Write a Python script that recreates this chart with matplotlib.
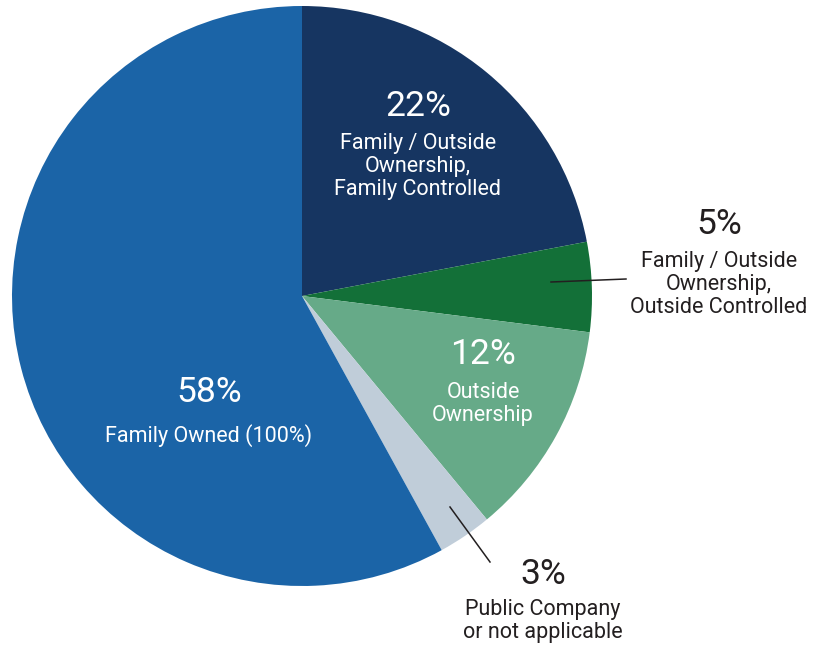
import matplotlib.pyplot as plt

plt.rcParams['font.family'] = ['Roboto', 'DejaVu Sans']

# Ownership breakdown, clockwise from 12 o'clock
shares = [22, 5, 12, 3, 58]
labels = [
    "Family / Outside\nOwnership,\nFamily Controlled",
    "Family / Outside\nOwnership,\nOutside Controlled",
    "Outside\nOwnership",
    "Public Company\nor not applicable",
    "Family Owned (100%)",
]
colors = ["#163561", "#137038", "#66aa88", "#c0cdd9", "#1b64a7"]

fig = plt.figure(figsize=(8.2, 6.47), dpi=100)
ax = fig.add_axes([12 / 820, 61 / 647, 580 / 820, 580 / 647])
ax.pie(shares, colors=colors, startangle=90, counterclock=False,
       radius=1.0, wedgeprops=dict(linewidth=0))
ax.set_xlim(-1, 1)
ax.set_ylim(-1, 1)
ax.set_aspect('auto')
ax.axis('off')


def px(x, y):
    # pixel position -> data coords of the pie axes
    return ((x - 302) / 290, (296 - y) / 290)


pct_size = 25.5
lab_size = 15.5

# inside labels (white)
inside = [(0, 418, 107, 141), (2, 483, 355, 390), (4, 209, 392, 432)]
for i, x, y_pct, y_lab in inside:
    ax.text(*px(x, y_pct), f"{shares[i]}%", color="white", fontsize=pct_size,
            ha="center", va="center")
    ax.text(*px(x, y_lab - 8), labels[i], color="white", fontsize=lab_size,
            ha="center", va="top", linespacing=1.13)

# outside labels with leader lines
outside = [(1, 719, 225, 259, (551, 282), (626, 279)),
           (3, 543, 575, 607, (450, 507), (490, 562))]
for i, x, y_pct, y_lab, p0, p1 in outside:
    ax.text(*px(x, y_pct), f"{shares[i]}%", color="#231f20", fontsize=pct_size,
            ha="center", va="center", clip_on=False)
    ax.text(*px(x, y_lab - 8), labels[i], color="#231f20", fontsize=lab_size,
            ha="center", va="top", linespacing=1.13, clip_on=False)
    (x0, y0), (x1, y1) = px(*p0), px(*p1)
    ax.plot([x0, x1], [y0, y1], color="#231f20", lw=1.1, clip_on=False)

fig.savefig("out.png", dpi=100)
